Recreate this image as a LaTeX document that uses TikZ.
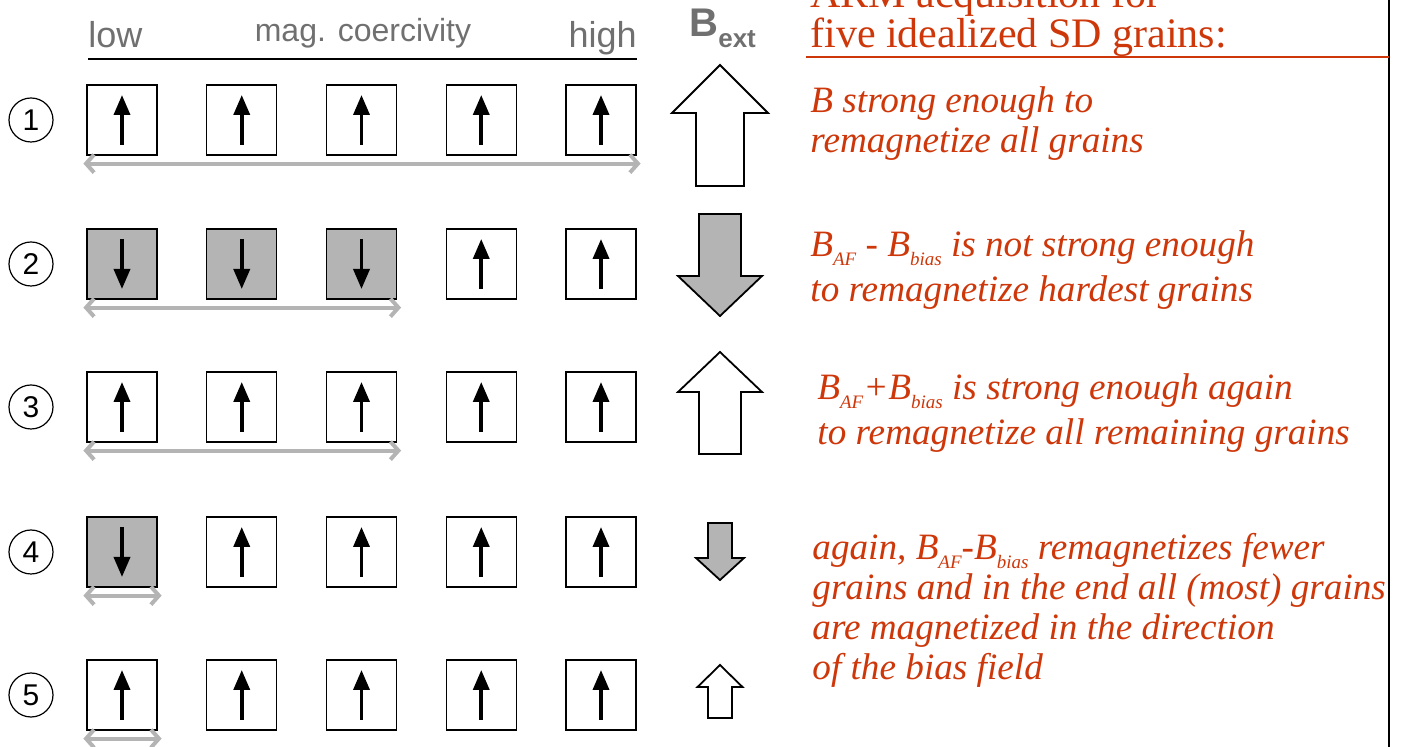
\documentclass[tikz,border=0pt]{standalone}
\usepackage{fontspec}
\setmainfont{Liberation Serif}
\setsansfont{Liberation Sans}
\usetikzlibrary{arrows.meta}
\definecolor{notecol}{RGB}{205,55,10}
\definecolor{labgray}{RGB}{112,112,112}
\definecolor{grgray}{RGB}{180,180,180}
\newcommand\lowsub[1]{\raisebox{-4.5pt}{\fontsize{9.5}{9.5}\selectfont #1}}
\tikzset{
  grain/.style={draw, minimum width=35pt, minimum height=35pt, inner sep=0pt, line width=0.6pt},
  moment/.style={-{Triangle[length=10pt,width=8pt]}, line width=1.8pt},
  span/.style={{Straight Barb[length=4pt,width=9pt]}-{Straight Barb[length=4pt,width=9pt]}, line width=2pt, draw=grgray},
  rownum/.style={draw, circle, minimum size=22pt, inner sep=0pt, line width=0.6pt, font=\sffamily\fontsize{15}{15}\selectfont},
  toplab/.style={text=labgray, inner sep=0pt, font=\sffamily\fontsize{18}{18}\selectfont},
  note/.style={anchor=base west, align=left, text=notecol, inner sep=0pt, font=\itshape\fontsize{18.6}{20}\selectfont},
}
\begin{document}
\begin{tikzpicture}[x=0.5pt,y=-0.5pt]
\useasboundingbox (0,0) rectangle (1408,747);

% coercivity axis
\node[toplab, anchor=base west] (low) at (88,48) {low};
\node[toplab, anchor=base, font=\sffamily\fontsize{16}{16}\selectfont] (coerc) at (363,42) {mag. coercivity};
\node[toplab, anchor=base east] (high) at (637,48) {high};
\draw[line width=1pt] ([yshift=-5.5pt]low.base west) -- ([yshift=-5.5pt]high.base east);
\node[anchor=base west, text=labgray, inner sep=0pt, font=\sffamily\bfseries\fontsize{20}{20}\selectfont] (bext) at (689,37) {B\raisebox{-5.5pt}{\fontsize{13}{13}\selectfont ext}};

% rows: number / y / flipped grains / span
\foreach \r/\y/\n/\w in {1/120/0/5,2/264/3/3,3/407/0/3,4/552/1/1,5/695/0/1}
{
\node[rownum] (c\r) at (31,\y) {\r};
\foreach \i in {1,...,5}
{
\pgfmathsetmacro\gx{122+119.75*(\i-1)}
\ifnum\i>\n
\node[grain] (g\r\i) at (\gx,\y) {};
\draw[moment] ([yshift=-12.5pt]g\r\i.center) -- ([yshift=12.5pt]g\r\i.center);
\else
\node[grain, fill=grgray] (g\r\i) at (\gx,\y) {};
\draw[moment] ([yshift=12.5pt]g\r\i.center) -- ([yshift=-12.5pt]g\r\i.center);
\fi
}
\draw[span] ([xshift=-1.5pt,yshift=-4pt]g\r1.south west) -- ([xshift=2pt,yshift=-4pt]g\r\w.south east);
}

% field arrows: tip / head / tail / half head / half shaft / fill
\foreach \tp/\hd/\tl/\hw/\sw/\fc in {65/113/186/48/24/white,316/276/214/42/21/grgray,352/392/454/42/21/white,580/558/523/24/12/grgray,665/687/718/22.5/12/white}
{
\draw[fill=\fc, line width=0.9pt] (720,\tp) -- (720+\hw,\hd) -- (720+\sw,\hd) -- (720+\sw,\tl) -- (720-\sw,\tl) -- (720-\sw,\hd) -- (720-\hw,\hd) -- cycle;
}

% explanations (placed at the baseline of their last line)
\coordinate (edgetop) at (1389,0);
\coordinate (edgebot) at (1389,747);
\draw[line width=0.8pt] (edgetop) -- (edgebot);
\node[note, font=\fontsize{21}{18.5}\selectfont] (title) at (810,48) {ARM acquisition for\\five idealized SD grains:};
\draw[notecol, line width=1pt] ([xshift=-2pt,yshift=-4.5pt]title.base west) -- ([yshift=-4.5pt]title.base west -| edgetop);
\node[note] (n1) at (810,153) {B strong enough to\\remagnetize all grains};
\node[note, font=\itshape\fontsize{18.6}{22.5}\selectfont] (n2) at (810,302) {B\lowsub{AF} - B\lowsub{bias} is not strong enough\\to remagnetize hardest grains};
\node[note, font=\itshape\fontsize{18.6}{22.5}\selectfont] (n3) at (817,445) {B\lowsub{AF}+B\lowsub{bias} is strong enough again\\to remagnetize all remaining grains};
\node[note] (n4) at (812,680) {again, B\lowsub{AF}-B\lowsub{bias} remagnetizes fewer\\grains and in the end all (most) grains\\are magnetized in the direction\\of the bias field};
\end{tikzpicture}
\end{document}
